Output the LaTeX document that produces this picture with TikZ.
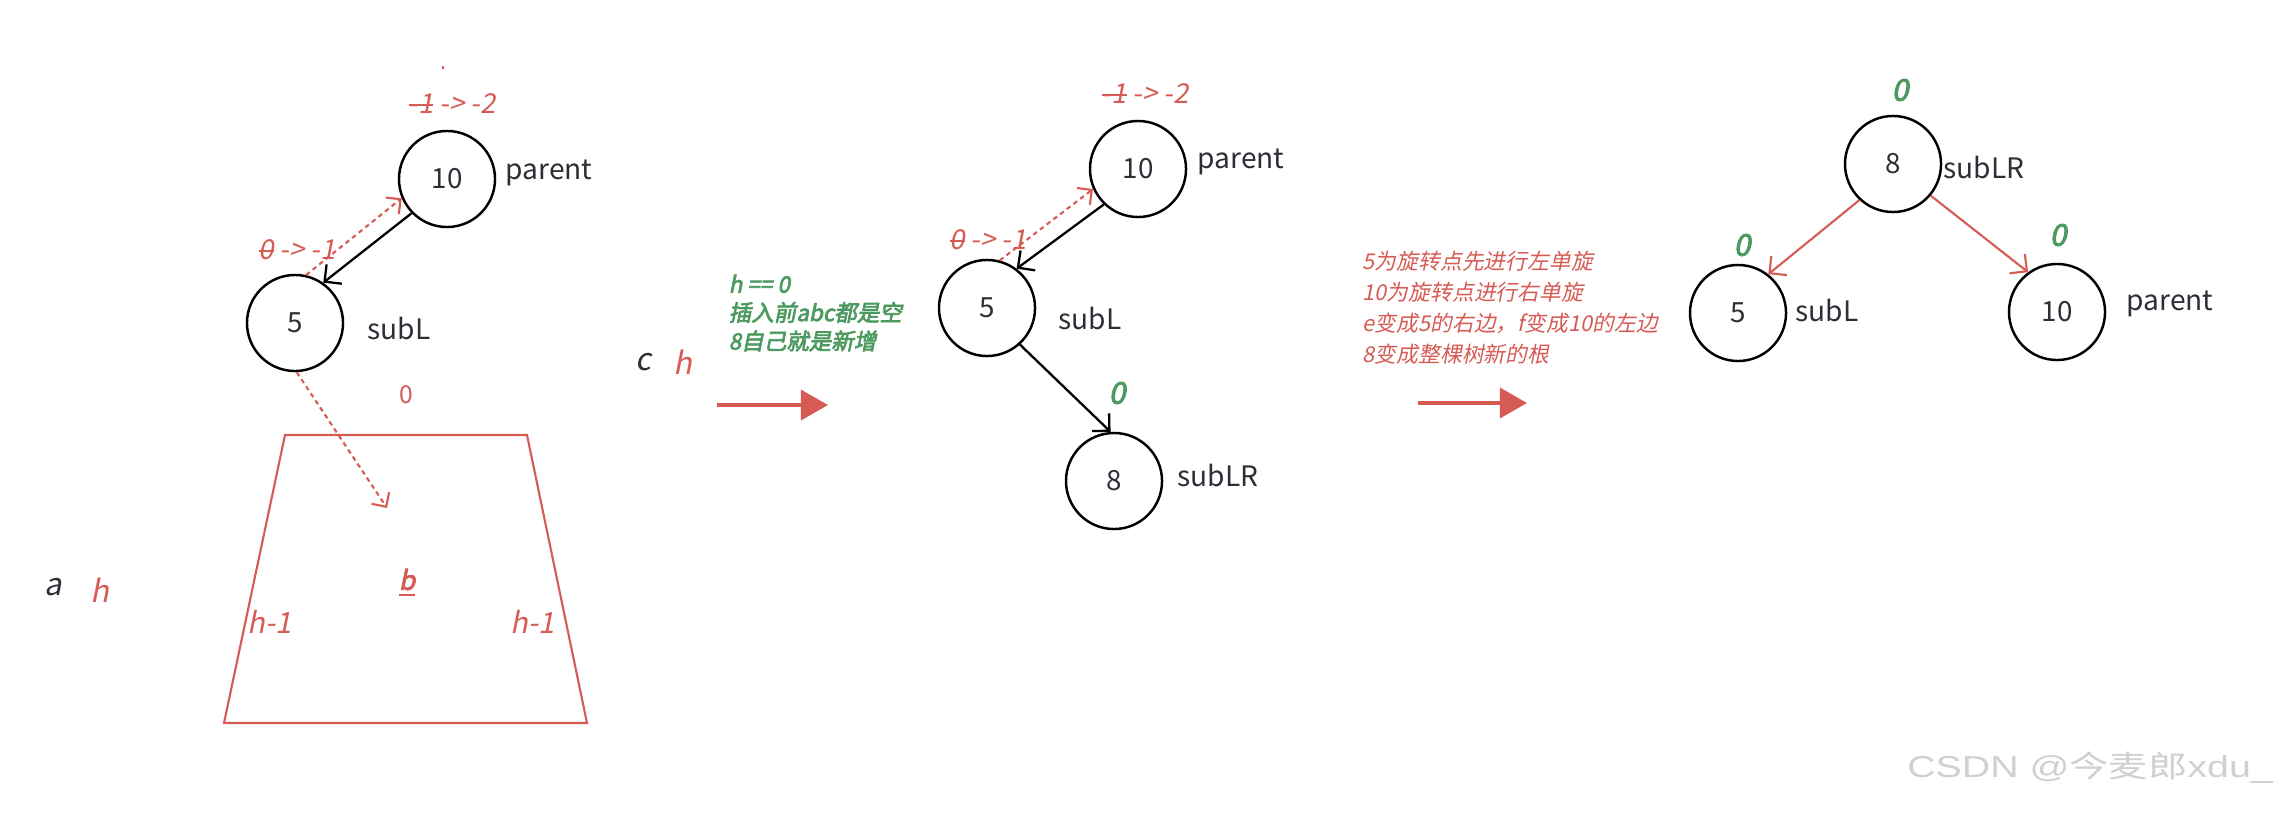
\documentclass[tikz,border=0pt]{standalone}
\usepackage{fontspec}
\setmainfont{Noto Sans CJK SC}
\newfontfamily\itf{Noto Sans CJK SC}[FakeSlant=0.2]
\newfontfamily\bif{Noto Sans CJK SC}[FakeSlant=0.2,FakeBold=3]
\newfontfamily\wmf{Liberation Sans}
\usetikzlibrary{arrows.meta}
\definecolor{myred}{HTML}{D75B55}
\definecolor{mygreen}{HTML}{4C9A5F}
\definecolor{txt}{HTML}{2B2F36}
\definecolor{wm}{HTML}{D0D0D0}
\newsavebox\strkbox
\newcommand\strk[1]{\sbox\strkbox{#1}\rlap{\rule[0.28em]{\wd\strkbox}{0.07em}}\usebox\strkbox}
\tikzset{
  circ/.style={circle, draw=black, line width=0.7pt, minimum size=0.96cm, inner sep=0pt,
    font=\fontsize{7.9pt}{9pt}\selectfont, text=txt},
  lbl/.style={inner sep=0pt, font=\fontsize{8pt}{10pt}\selectfont, text=txt, anchor=west},
  bal/.style={inner sep=0pt, text=myred, font=\itf\fontsize{7.8pt}{9pt}\selectfont},
  gz/.style={inner sep=0pt, text=mygreen, font=\bif\fontsize{8.5pt}{10pt}\selectfont},
  bigl/.style={inner sep=0pt, font=\itf\fontsize{8.8pt}{10pt}\selectfont},
  blk/.style={draw=black, line width=0.65pt, -{Straight Barb[length=3.5pt,width=7pt]}},
  rarr/.style={draw=myred, line width=0.6pt, -{Straight Barb[length=3.5pt,width=7pt]}},
  rdot/.style={draw=myred, line width=0.6pt, dash pattern=on 1.3pt off 1.1pt, -{Straight Barb[length=3pt,width=6pt]}},
  bigarr/.style={draw=myred, line width=1.15pt, -{Triangle[length=7.7pt,width=8.5pt]}},
}
\begin{document}
\begin{tikzpicture}[x=0.01cm,y=-0.01cm]
\fill[white] (0,0) rectangle (2289,812);
\useasboundingbox (0,0) rectangle (2289,812);

% ---------- panel 1 ----------
\draw[myred, line width=0.5pt] (443,66) -- (443,69);
\node[bal] (p1top) at (452,104) {\strk{-1} -> -2};
\node[circ] (n10a) at (447,179) {10};
\node[lbl] (par1) at (505,173) {parent};
\node[circ] (n5a) at (295,323) {5};
\node[lbl] (subl1) at (367,328) {subL};
\node[bal] (p1bf) at (297,250) {\strk{0} -> -1};
\draw[blk] (n10a.224) -- (n5a.55);
\draw[rdot] (n5a.77) -- (n10a.203);
\coordinate (bend) at (387,508);
\draw[rdot] (n5a.-88) -- (bend);
\node[inner sep=0pt, text=myred, font=\fontsize{7pt}{8pt}\selectfont] (z0) at (406,395) {0};
\draw[myred, line width=0.6pt] (285,435) -- (527,435) -- (587,723) -- (224,723) -- cycle;
\node[inner sep=0pt, text=myred, font=\bif\fontsize{7.5pt}{9pt}\selectfont] (bb) at (407,583) {\underline{b}};
\node[bal, font=\itf\fontsize{8.3pt}{9pt}\selectfont] (hl) at (270,622) {h-1};
\node[bal, font=\itf\fontsize{8.3pt}{9pt}\selectfont] (hr) at (533,622) {h-1};
\node[bigl, text=txt] (la) at (53,587) {a};
\node[bigl, text=myred] (lha) at (100,590) {h};
\node[bigl, text=txt] (lc) at (643,362) {c};
\node[bigl, text=myred] (lhc) at (683,362) {h};

\node[inner sep=0pt, anchor=west, align=left, text=mygreen, font=\bif\fontsize{6.4pt}{8.1pt}\selectfont] (gtxt) at (728,313)
  {h == 0\\插入前abc都是空\\8自己就是新增};
\coordinate (a1s) at (717,405);
\coordinate (a1e) at (828,405);
\draw[bigarr] (a1s) -- (a1e);

% ---------- panel 2 ----------
\node[bal] (p2top) at (1145,94) {\strk{-1} -> -2};
\node[circ] (n10b) at (1138,169) {10};
\node[lbl] (par2) at (1197,162) {parent};
\node[circ] (n5b) at (987,308) {5};
\node[lbl] (subl2) at (1058,318) {subL};
\node[bal] (p2bf) at (988,240) {\strk{0} -> -1};
\draw[blk] (n10b.226) -- (n5b.53);
\draw[rdot] (n5b.75) -- (n10b.204);
\node[circ] (n8b) at (1114,481) {8};
\node[lbl] (sublr2) at (1177,475) {subLR};
\draw[blk] (n5b.-48) -- (n8b.94);
\node[gz] (g8b) at (1117,393) {0};

\node[inner sep=0pt, anchor=west, align=left, text=myred, font=\itf\fontsize{6.2pt}{8.8pt}\selectfont] (rtxt) at (1362,308)
  {5为旋转点先进行左单旋\\10为旋转点进行右单旋\\e变成5的右边，f变成10的左边\\8变成整棵树新的根};
\coordinate (a2s) at (1418,403);
\coordinate (a2e) at (1527,403);
\draw[bigarr] (a2s) -- (a2e);

% ---------- panel 3 ----------
\node[gz] (g8c) at (1900,90) {0};
\node[circ] (n8c) at (1893,164) {8};
\node[lbl] (sublr3) at (1943,167) {subLR};
\node[circ] (n5c) at (1738,313) {5};
\node[lbl] (subl3) at (1795,310) {subL};
\node[circ] (n10c) at (2057,312) {10};
\node[lbl] (par3) at (2126,304) {parent};
\node[gz] (g5c) at (1742,245) {0};
\node[gz] (g10c) at (2058,235) {0};
\draw[rarr] (n8c.227) -- (n5c.52);
\draw[rarr] (n8c.-40) -- (n10c.126);

% ---------- watermark ----------
\node[inner sep=0pt, text=wm, transform shape, xscale=1.3, font=\wmf\fontsize{8.6pt}{10pt}\selectfont] (wmk) at (2090,768)
  {CSDN @{\rmfamily 今麦郎}xdu\_};
\end{tikzpicture}
\end{document}
